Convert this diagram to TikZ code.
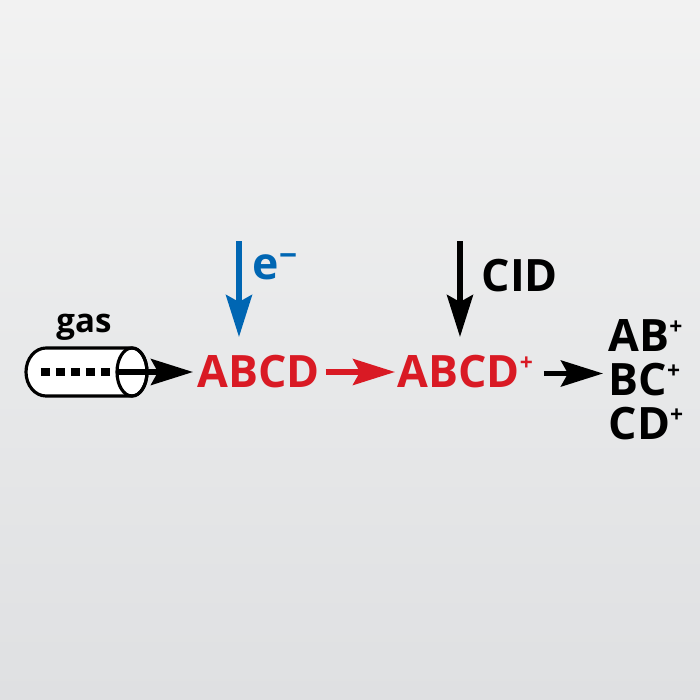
\documentclass[tikz,border=0pt]{standalone}
\usepackage{fontspec}
\setmainfont{Open Sans}
\usetikzlibrary{arrows.meta}
\definecolor{ionred}{HTML}{D91A24}
\definecolor{beamblue}{HTML}{0066B3}
\definecolor{bgtop}{HTML}{F2F2F2}
\definecolor{bgmid}{HTML}{E8E9EA}
\definecolor{bgbottom}{HTML}{DFE0E2}
\newcommand{\charge}[1]{\raisebox{4.7pt}{\fontsize{6.5}{6.5}\selectfont #1}}
\newcommand{\negcharge}[1]{\raisebox{3.6pt}{\fontsize{9}{9}\selectfont #1}}
\tikzset{
	species/.style={font=\fontsize{12.7}{12.7}\selectfont\bfseries,inner xsep=0.02cm,inner ysep=0pt},
	product/.style={species,anchor=base west},
	flow/.style={line width=1.5pt,-{Stealth[inset=0.07cm,length=0.42cm,width=0.26cm]}},
	tube/.style={line width=0.9pt}
}
\begin{document}
\begin{tikzpicture}
	%%Background
	\shade[top color=bgtop,bottom color=bgbottom,middle color=bgmid] (0,0) rectangle (7,7);
	\useasboundingbox (0,0) rectangle (7,7);
	%%Tube
	\draw[tube,fill=white] (1.32,3.52) -- (0.46,3.52) arc[start angle=90,end angle=270,x radius=0.2,y radius=0.24]
		-- (1.32,3.04) arc[start angle=-90,end angle=90,x radius=0.15,y radius=0.24];
	\draw[tube] (1.32,3.28) ellipse[x radius=0.15,y radius=0.24];
	\node[species,font=\fontsize{9.4}{9.4}\selectfont\bfseries,anchor=base] (gas) at (0.84,3.68) {gas};
	%%Species
	\node[species,text=ionred,anchor=base west] (abcd) at (1.95,3.13) {ABCD};
	\node[species,text=ionred,anchor=base west] (abcdion) at (3.95,3.13) {ABCD\charge{+}};
	\node[product] (ab) at (6.06,3.49) {AB\charge{+}};
	\node[product] (bc) at (6.06,3.05) {BC\charge{+}};
	\node[product] (cd) at (6.06,2.61) {CD\charge{+}};
	\node[species,text=beamblue,anchor=base west] (electron) at (2.5,4.21) {e\negcharge{−}};
	\node[species,anchor=base west] (cid) at (4.79,4.09) {CID};
	%%Free ends
	\coordinate (tubein) at (0.41,3.28);
	\coordinate (tubeout) at (1.17,3.28);
	\coordinate (ebeam) at (2.39,4.59);
	\coordinate (cidbeam) at (4.6,4.59);
	%%Arrows
	\draw[line width=2pt,dash pattern=on 0.09cm off 0.06cm] (tubein) -- (tubeout);
	\draw[flow,shorten >=0.02cm] (tubeout) -- (abcd.west |- tubeout);
	\draw[flow,ionred,shorten <=0.03cm] (abcd.east |- tubeout) -- (abcdion.west |- tubeout);
	\draw[flow,beamblue,shorten >=0.17cm] (ebeam) -- (ebeam |- abcd.north);
	\draw[flow,shorten >=0.17cm] (cidbeam) -- (cidbeam |- abcdion.north);
	\draw[flow,shorten >=0.03cm] (5.44,3.265) coordinate (fragstart) -- (bc.west |- fragstart);
\end{tikzpicture}
\end{document}
